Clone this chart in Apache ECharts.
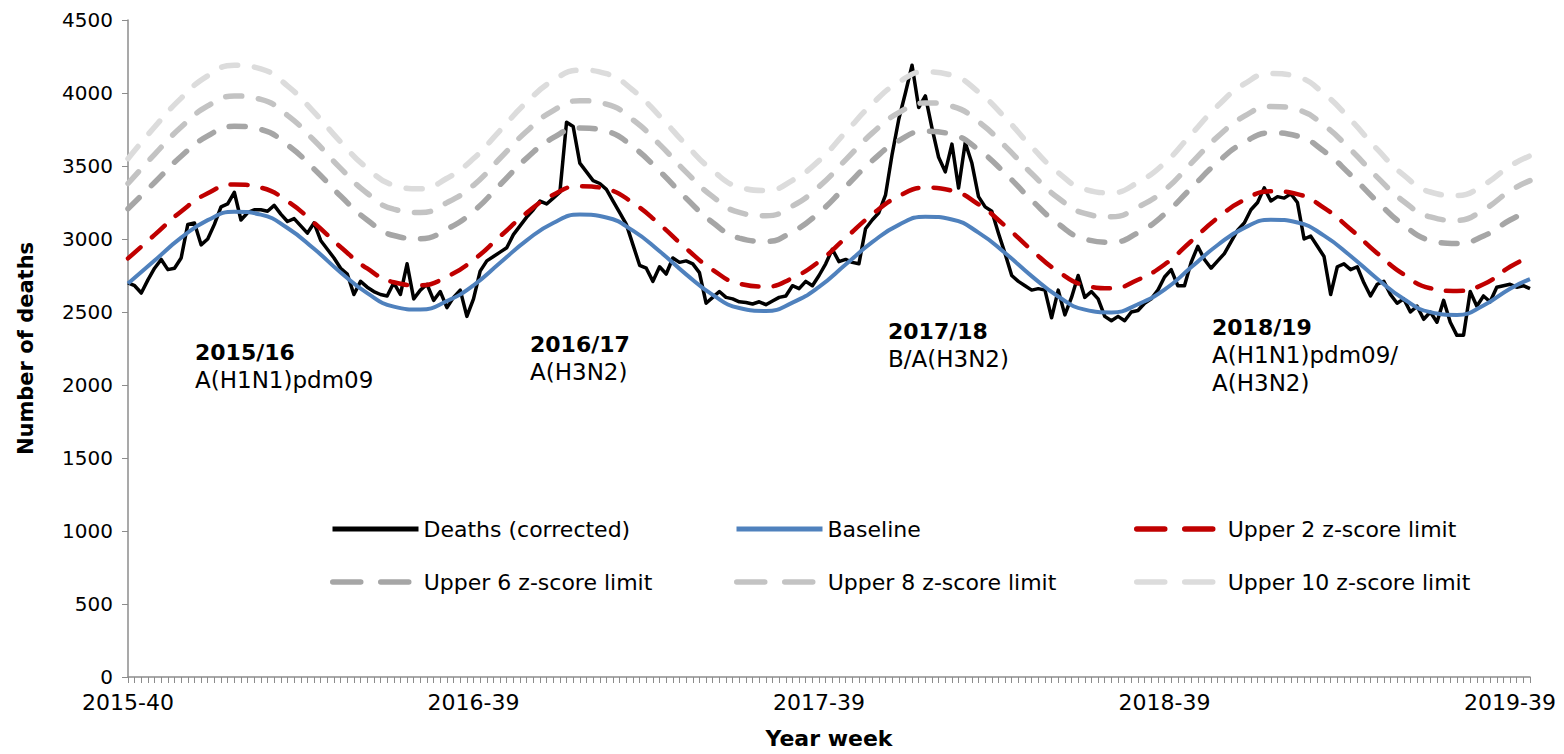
<!DOCTYPE html>
<html><head><meta charset="utf-8">
<script src="https://cdn.jsdelivr.net/npm/echarts@6/dist/echarts.min.js"></script>
<style>html,body{margin:0;padding:0;background:#fff}#c{width:1564px;height:754px}</style>
</head><body><div id="c"></div>
<script>
// ---- categories (ISO year-week) ----
const weekRanges = [[2015,40,53],[2016,1,52],[2017,1,52],[2018,1,52],[2019,1,42]];
const categories = [];
weekRanges.forEach(([y,a,b]) => { for (let w = a; w <= b; w++) categories.push(y + '-' + String(w).padStart(2,'0')); });

const yTicks = [0,500,1000,1500,2000,2500,3000,3500,4000,4500];

// ---- weekly deaths (corrected), one per category ----
const deaths = [
2700,2680,2630,2720,2800,2860,2790,2800,2870,3100,3110,2960,3000,3100,3220,3240,3320,3130,3180,3200,
3200,3190,3230,3170,3120,3140,3090,3040,3110,2990,2930,2870,2800,2760,2620,2710,2670,2640,2620,2610,
2700,2620,2830,2590,2650,2690,2580,2640,2530,2600,2650,2470,2590,2780,2850,2880,2910,2940,3030,3090,
3150,3200,3260,3240,3280,3320,3800,3770,3520,3460,3400,3380,3340,3260,3180,3100,2960,2820,2800,2710,
2810,2760,2870,2840,2850,2830,2770,2560,2600,2640,2600,2590,2570,2565,2555,2570,2550,2575,2600,2610,
2680,2660,2710,2680,2750,2830,2930,2845,2860,2840,2830,3070,3130,3180,3300,3580,3820,4000,4190,3900,
3980,3760,3560,3460,3650,3350,3660,3520,3290,3220,3190,3040,2900,2750,2710,2680,2650,2660,2650,2460,
2650,2480,2600,2750,2600,2640,2590,2470,2440,2470,2440,2500,2510,2560,2590,2650,2740,2790,2680,2680,
2840,2950,2860,2800,2850,2900,2980,3060,3110,3200,3250,3350,3260,3290,3280,3310,3250,3000,3020,2950,
2880,2620,2810,2830,2790,2810,2700,2610,2690,2710,2620,2560,2590,2500,2540,2450,2500,2430,2580,2430,
2340,2340,2640,2540,2610,2570,2670,2680,2690,2670,2680,2660
];

// ---- smooth limit curves, read every 4 weeks (week index) ----
const limitWeeks = [0,4,8,12,16,20,24,28,32,36,40,44,48,52,56,60,64,68,72,76,80,84,88,92,96,100,
104,108,112,116,120,124,128,132,136,140,144,148,152,156,160,164,168,172,176,180,184,188,192,196,200,204,208,211];
const baseline = [
2695,2852,3009,3129,3187,3167,3075,2933,2771,2629,2537,2517,2575,
2683,2837,2991,3110,3167,3147,3057,2916,2758,2617,2527,2507,2564,
2672,2825,2978,3097,3153,3134,3044,2904,2746,2606,2516,2497,2553,
2653,2806,2959,3076,3132,3113,3023,2884,2728,2589,2499,2480,2545,2660,2725];
const upper2 = [
2867,3028,3189,3314,3373,3352,3258,3111,2945,2798,2704,2683,2742,
2857,3018,3179,3303,3362,3342,3247,3101,2935,2789,2694,2674,2733,
2846,3007,3168,3293,3352,3331,3237,3090,2924,2777,2683,2662,2721,
2825,2985,3145,3268,3327,3307,3213,3067,2903,2757,2663,2644,2690,2810,2880];
const upper6 = [
3207,3387,3567,3706,3772,3750,3644,3480,3294,3130,3024,3002,3068,
3190,3372,3554,3694,3760,3738,3631,3465,3279,3113,3006,2984,3050,
3180,3358,3536,3673,3738,3716,3612,3450,3266,3104,3000,2978,3043,
3170,3348,3526,3662,3727,3705,3601,3439,3257,3095,2991,2969,3020,3130,3195];
const upper8 = [
3380,3580,3767,3911,3979,3956,3847,3676,3484,3313,3204,3181,3249,
3368,3553,3738,3880,3947,3924,3816,3648,3458,3290,3182,3159,3226,
3359,3542,3725,3865,3932,3909,3803,3636,3448,3281,3175,3152,3219,
3335,3518,3701,3841,3908,3885,3779,3612,3424,3257,3151,3128,3200,3330,3400];
const upper10 = [
3550,3767,3965,4118,4190,4165,4049,3869,3665,3485,3369,3344,3416,
3551,3744,3937,4086,4156,4132,4019,3843,3645,3469,3356,3332,3402,
3537,3731,3925,4074,4145,4121,4007,3831,3631,3455,3341,3317,3388,
3520,3716,3912,4062,4134,4110,3995,3817,3615,3437,3322,3298,3370,3500,3570];

const seriesNames = ['Deaths (corrected)','Baseline','Upper 2 z-score limit','Upper 6 z-score limit','Upper 8 z-score limit','Upper 10 z-score limit'];
const seasons = [
  {bold:'2015/16', lines:['A(H1N1)pdm09']},
  {bold:'2016/17', lines:['A(H3N2)']},
  {bold:'2017/18', lines:['B/A(H3N2)']},
  {bold:'2018/19', lines:['A(H1N1)pdm09/','A(H3N2)']}
];

const FONT = 'DejaVu Sans';
const pairs = arr => limitWeeks.map((w,k) => [w, arr[k]]);

const chart = echarts.init(document.getElementById('c'), null, {renderer:'svg'});

function legendAt(name, left, top, dashed){
  const l = {
    data:[name], left:left, top:top, padding:0, itemWidth:86, itemHeight:16,
    selectedMode:false,
    itemStyle:{opacity:0},
    textStyle:{fontFamily:FONT, fontSize:22, color:'#000'},
    lineStyle:{width: dashed ? 5.5 : 5}
  };
  if (dashed) { l.lineStyle.type = [28, 20]; }
  return l;
}

const annPos = [[195,352],[530,344],[888,331],[1212,327]];
const graphics = [];
seasons.forEach((s,i) => {
  const [x,y] = annPos[i];
  graphics.push({type:'text', x:x, y:y, style:{text:s.bold, font:'bold 22px "DejaVu Sans"', fill:'#000', align:'left', verticalAlign:'middle'}});
  s.lines.forEach((t,j) => graphics.push({type:'text', x:x, y:y+28*(j+1), style:{text:t, font:'23px "DejaVu Sans"', fill:'#000', align:'left', verticalAlign:'middle'}}));
});

const dashedSeries = (name, data, color, width, dash) => ({
  name, type:'line', data:pairs(data), smooth:true, symbol:'none', showSymbol:false,
  color, lineStyle:{color, width, type:dash, cap:'round'}
});

chart.setOption({
  animation:false,
  backgroundColor:'#fff',
  grid:{left:128, right:34, top:20, bottom:74, containLabel:false},
  xAxis:{
    type:'category', data:categories, boundaryGap:false,
    axisLine:{lineStyle:{color:'#8c8c8c', width:1.5}},
    axisTick:{interval:0, length:6, lineStyle:{color:'#8c8c8c'}},
    axisLabel:{interval:51, margin:14, fontFamily:FONT, fontSize:22, color:'#000'},
    name:'Year week', nameLocation:'middle', nameGap:50,
    nameTextStyle:{fontFamily:FONT, fontSize:22, fontWeight:'bold', color:'#000'},
    splitLine:{show:false}
  },
  yAxis:{
    type:'value', min:yTicks[0], max:yTicks[yTicks.length-1], interval:yTicks[1]-yTicks[0],
    axisLine:{show:true, lineStyle:{color:'#8c8c8c', width:1.5}},
    axisTick:{show:true, length:6, lineStyle:{color:'#8c8c8c'}},
    axisLabel:{margin:15, fontFamily:FONT, fontSize:20, color:'#000', formatter: v => String(v)},
    splitLine:{show:false},
    name:'Number of deaths', nameLocation:'middle', nameGap:92,
    nameTextStyle:{fontFamily:FONT, fontSize:21, fontWeight:'bold', color:'#000'}
  },
  legend:[
    legendAt(seriesNames[0], 330, 518, false),
    legendAt(seriesNames[1], 734, 518, false),
    legendAt(seriesNames[2], 1134, 518, true),
    legendAt(seriesNames[3], 330, 571, true),
    legendAt(seriesNames[4], 734, 571, true),
    legendAt(seriesNames[5], 1134, 571, true)
  ],
  graphic:graphics,
  series:[
    {name:seriesNames[0], type:'line', data:deaths, symbol:'none', showSymbol:false, color:'#000',
     lineStyle:{color:'#000', width:3.5, join:'round'}},
    {name:seriesNames[1], type:'line', data:pairs(baseline), smooth:true, symbol:'none', showSymbol:false,
     color:'#4F81BD', lineStyle:{color:'#4F81BD', width:4}},
    dashedSeries(seriesNames[2], upper2, '#C00000', 4.5, [17,15]),
    dashedSeries(seriesNames[3], upper6, '#A6A6A6', 5.5, [16,17]),
    dashedSeries(seriesNames[4], upper8, '#C3C3C3', 5.5, [16,17]),
    dashedSeries(seriesNames[5], upper10, '#DCDCDC', 5.5, [16,17])
  ]
});
</script></body></html>
